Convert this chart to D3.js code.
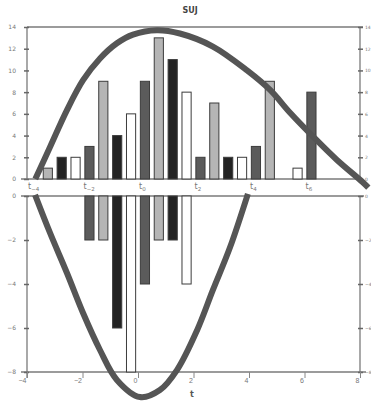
<!DOCTYPE html>
<html><head><meta charset="utf-8">
<script src="https://cdn.jsdelivr.net/npm/d3@7"></script>
<style>html,body{margin:0;padding:0;background:#fff;} svg{display:block;font-family:"DejaVu Sans",Arial,sans-serif;}</style>
</head><body>
<script>
// ---- data ----
const title = "SUJ";
const xLabel = "t";
const xTicks = [-4, -2, 0, 2, 4, 6, 8];
const topTLabels = [["t","\u22124"],["t","\u22122"],["t","0"],["t","2"],["t","4"],["t","6"]];
const topTLabelX = [-4, -2, 0, 2, 4, 6];
const topYTicks = [0, 2, 4, 6, 8, 10, 12, 14];
const bottomYTicks = [0, -2, -4, -6, -8];
const groups = [-4, -2, 0, 2, 4, 6];
const seriesNames = ["s1", "s2", "s3", "s4"];
const seriesColors = ["#5b5b5b", "#b5b5b5", "#232323", "#ffffff"];
// upper panel (positive) values per group
const topS1 = [0, 3, 9, 2, 3, 8];
const topS2 = [1, 9, 13, 7, 9, 0];
const topS3 = [2, 4, 11, 2, 0, 0];
const topS4 = [2, 6, 8, 2, 1, 0];
// lower panel (negative) values per group
const botS1 = [0, -2, -4, 0, 0, 0];
const botS2 = [0, -2, -2, 0, 0, 0];
const botS3 = [0, -6, -2, 0, 0, 0];
const botS4 = [0, -8, -4, 0, 0, 0];
// curves
const topCurveX = [-3.7, -3.17, -2.56, -1.98, -1.37, -0.76, -0.18, 0.68, 1.51, 2.7, 3.93, 4.76, 5.48, 6.31, 7.17, 8.1, 8.3];
const topCurveY = [0, 2.95, 6.35, 9.1, 11.1, 12.5, 13.3, 13.7, 13.4, 12.2, 10.0, 8.2, 6.1, 3.9, 1.75, -0.3, -0.8];
const botCurveX = [-3.71, -3.17, -2.56, -1.98, -1.37, -0.76, 0.07, 0.79, 1.41, 2.13, 2.7, 3.32, 3.96];
const botCurveY = [0.05, -1.68, -3.5, -5.32, -7.0, -8.36, -9.14, -8.82, -7.9, -6.1, -4.27, -2.32, 0.1];

// ---- layout ----
const W = 371, H = 404;
const svg = d3.select("body").append("svg").attr("width", W).attr("height", H);
const x = d3.scaleLinear().domain([-4, 8]).range([27, 360]);
const yTop = d3.scaleLinear().domain([0, 14]).range([179, 27]);
const yBot = d3.scaleLinear().domain([-8, 0]).range([372, 196]);
const axisColor = "#7a7a7a", textColor = "#777";

const topVals = [topS1, topS2, topS3, topS4];
const botVals = [botS1, botS2, botS3, botS4];

function band(g) {
  return d3.scaleBand().domain(seriesNames).range([x(g), x(g + 2)]).paddingInner(0.34).paddingOuter(0.17);
}

// title
svg.append("text").attr("x", 190).attr("y", 13).attr("text-anchor", "middle")
  .attr("font-size", 8).attr("font-weight", "bold").attr("fill", "#444").text(title);

// frames
const frame = svg.append("g").attr("stroke", axisColor).attr("stroke-width", 1.3).attr("fill", "none");
frame.append("line").attr("x1", x(-4)).attr("x2", x(8) + 3).attr("y1", yTop(14)).attr("y2", yTop(14));
frame.append("line").attr("x1", x(-4)).attr("x2", x(-4)).attr("y1", yTop(14)).attr("y2", yTop(0));
frame.append("line").attr("x1", x(8)).attr("x2", x(8)).attr("y1", yTop(14)).attr("y2", yTop(0));
frame.append("line").attr("x1", x(-4) - 6).attr("x2", x(8)).attr("y1", yTop(0)).attr("y2", yTop(0));
frame.append("line").attr("x1", x(-4) - 6).attr("x2", x(8) + 4).attr("y1", yBot(0)).attr("y2", yBot(0));
frame.append("line").attr("x1", x(-4)).attr("x2", x(-4)).attr("y1", yBot(0)).attr("y2", yBot(-8) + 6);
frame.append("line").attr("x1", x(8)).attr("x2", x(8)).attr("y1", yBot(0)).attr("y2", yBot(-8));
frame.append("line").attr("x1", x(-4) - 6).attr("x2", x(8) + 6).attr("y1", yBot(-8)).attr("y2", yBot(-8));

// left/right y axes with d3 axes
function yAxes(scale, ticks) {
  const gl = svg.append("g").attr("transform", `translate(${x(-4)},0)`)
    .call(d3.axisLeft(scale).tickValues(ticks).tickSize(3).tickPadding(8).tickFormat(d3.format("d")));
  const gr = svg.append("g").attr("transform", `translate(${x(8)},0)`)
    .call(d3.axisRight(scale).tickValues(ticks).tickSize(3).tickPadding(2).tickFormat(d3.format("d")));
  [gl, gr].forEach(g => {
    g.select(".domain").remove();
    g.selectAll("line").attr("stroke", "#666").attr("stroke-width", 1.5);
    g.selectAll("text").attr("fill", textColor).attr("font-size", 6).attr("font-family", "DejaVu Sans");
  });
  gl.selectAll("line").attr("x1", 2).attr("x2", -3);
  gr.selectAll("line").attr("x1", -2).attr("x2", 3);
  gr.selectAll("text").attr("font-size", 4.5);
}
yAxes(yTop, topYTicks);
yAxes(yBot, bottomYTicks);

// bottom x axis
const gx = svg.append("g").attr("transform", `translate(0,${yBot(-8)})`)
  .call(d3.axisBottom(x).tickValues(xTicks).tickSize(6).tickFormat(d3.format("d")));
gx.select(".domain").remove();
gx.selectAll("line").attr("stroke", "#888").attr("stroke-width", 1);
gx.selectAll("text").attr("fill", textColor).attr("font-size", 7).attr("text-anchor", "end")
  .attr("dx", -1).attr("dy", 2);
svg.append("text").attr("x", 192).attr("y", 397).attr("text-anchor", "middle")
  .attr("font-size", 8).attr("font-weight", "bold").attr("fill", "#555").text(xLabel);

// t labels in the gap
const tl = svg.append("g").attr("fill", "#777").attr("font-size", 8);
topTLabelX.forEach((v, i) => {
  const t = tl.append("text").attr("x", x(v) + 1).attr("y", yTop(0) + 10);
  t.append("tspan").text(topTLabels[i][0]);
  t.append("tspan").attr("font-size", 5.5).attr("dy", 2).text(topTLabels[i][1]);
});

// bars
function drawBars(vals, yScale) {
  groups.forEach((g, gi) => {
    const b = band(g);
    seriesNames.forEach((s, si) => {
      const v = vals[si][gi];
      if (v === 0) return;
      svg.append("rect")
        .attr("x", b(s)).attr("width", b.bandwidth())
        .attr("y", Math.min(yScale(v), yScale(0)))
        .attr("height", Math.abs(yScale(v) - yScale(0)))
        .attr("fill", seriesColors[si]).attr("stroke", "#3c3c3c").attr("stroke-width", 1);
    });
  });
}
drawBars(topVals, yTop);
drawBars(botVals, yBot);

// curves
const curveColor = "#555";
const lineTop = d3.line().x(d => x(d[0])).y(d => yTop(d[1])).curve(d3.curveCatmullRom);
const lineBot = d3.line().x(d => x(d[0])).y(d => yBot(d[1])).curve(d3.curveCatmullRom);
svg.append("path").datum(topCurveX.map((v, i) => [v, topCurveY[i]])).attr("d", lineTop)
  .attr("fill", "none").attr("stroke", curveColor).attr("stroke-width", 6);
svg.append("path").datum(botCurveX.map((v, i) => [v, botCurveY[i]])).attr("d", lineBot)
  .attr("fill", "none").attr("stroke", curveColor).attr("stroke-width", 6);
</script>
</body></html>
